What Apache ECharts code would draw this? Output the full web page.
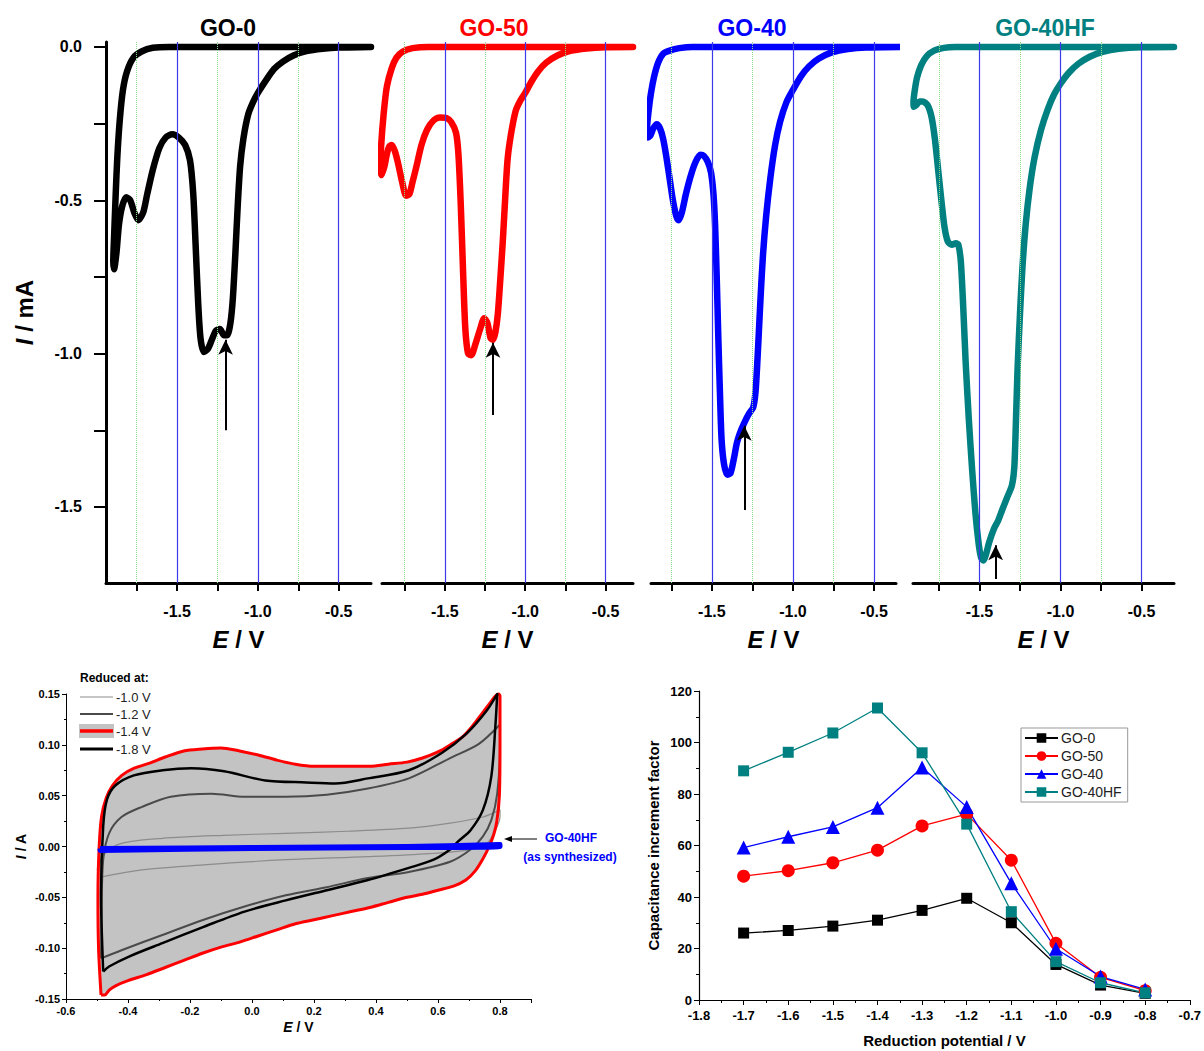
<!DOCTYPE html>
<html>
<head>
<meta charset="utf-8">
<title>GO reduction</title>
<script src="https://cdn.jsdelivr.net/npm/echarts@6.0.0/dist/echarts.min.js"></script>
<style>
  html, body { margin: 0; padding: 0; background: #fff; }
  #chart { width: 1204px; height: 1051px; }
</style>
</head>
<body>
<div id="chart"></div>
<script>
// ---- top row: reduction sweeps (E / V, I / mA) ----
const go0E = [-0.30,-1.0,-1.55,-1.65,-1.72,-1.77,-1.81,-1.835,-1.855,-1.87,-1.88,-1.89,-1.895,-1.89,
  -1.875,-1.86,-1.84,-1.815,-1.79,-1.765,-1.74,-1.71,-1.685,-1.65,-1.61,-1.57,-1.53,-1.49,-1.45,-1.42,-1.40,-1.385,-1.37,-1.355,-1.335,-1.31,-1.285,-1.26,-1.235,-1.21,-1.19,-1.17,-1.155,-1.14,-1.125,-1.11,-1.09,-1.06,-1.03,-1.0,-0.945,-0.90,-0.845,-0.78,-0.70,-0.60,-0.50,-0.30]
const go0I = [0,0,0,-0.003,-0.015,-0.035,-0.08,-0.14,-0.24,-0.36,-0.48,-0.62,-0.70,-0.725,
  -0.67,-0.58,-0.52,-0.49,-0.50,-0.54,-0.565,-0.54,-0.48,-0.40,-0.33,-0.295,-0.285,-0.295,-0.32,-0.37,-0.48,-0.65,-0.83,-0.95,-0.995,-0.985,-0.955,-0.925,-0.92,-0.94,-0.94,-0.90,-0.82,-0.68,-0.52,-0.39,-0.30,-0.22,-0.18,-0.15,-0.105,-0.072,-0.048,-0.028,-0.014,-0.006,-0.002,0]

const go50E = [-0.33,-1.0,-1.6,-1.70,-1.76,-1.80,-1.83,-1.86,-1.88,-1.895,-1.90,-1.893,
  -1.875,-1.86,-1.845,-1.83,-1.81,-1.79,-1.765,-1.74,-1.72,-1.70,-1.676,-1.645,-1.61,-1.57,-1.53,-1.49,-1.46,-1.43,-1.415,-1.40,-1.385,-1.372,-1.355,-1.335,-1.31,-1.28,-1.255,-1.235,-1.215,-1.20,-1.185,-1.17,-1.155,-1.14,-1.125,-1.11,-1.09,-1.06,-1.03,-1.0,-0.96,-0.92,-0.87,-0.80,-0.72,-0.62,-0.50,-0.33]
const go50I = [0,0,0,-0.004,-0.015,-0.035,-0.07,-0.13,-0.22,-0.32,-0.39,-0.418,
  -0.39,-0.35,-0.325,-0.32,-0.34,-0.38,-0.44,-0.485,-0.48,-0.44,-0.39,-0.32,-0.27,-0.24,-0.23,-0.232,-0.245,-0.28,-0.35,-0.52,-0.75,-0.92,-1.0,-1.005,-0.97,-0.92,-0.885,-0.90,-0.95,-0.955,-0.93,-0.87,-0.76,-0.64,-0.50,-0.37,-0.29,-0.21,-0.175,-0.15,-0.112,-0.08,-0.052,-0.028,-0.013,-0.005,-0.001,0]

const go40E = [-0.30,-1.0,-1.62,-1.70,-1.76,-1.80,-1.83,-1.855,-1.875,-1.89,-1.90,-1.895,
  -1.88,-1.86,-1.84,-1.82,-1.80,-1.78,-1.76,-1.74,-1.72,-1.705,-1.685,-1.66,-1.63,-1.60,-1.57,-1.55,-1.525,-1.505,-1.49,-1.48,-1.47,-1.46,-1.45,-1.44,-1.425,-1.405,-1.385,-1.365,-1.345,-1.32,-1.295,-1.27,-1.245,-1.23,-1.215,-1.20,-1.185,-1.165,-1.14,-1.11,-1.08,-1.04,-1.0,-0.95,-0.90,-0.84,-0.76,-0.66,-0.55,-0.30]
const go40I = [0,0,0,-0.004,-0.012,-0.022,-0.05,-0.095,-0.15,-0.21,-0.27,-0.295,
  -0.29,-0.265,-0.252,-0.265,-0.30,-0.36,-0.43,-0.50,-0.55,-0.565,-0.54,-0.48,-0.42,-0.375,-0.352,-0.355,-0.375,-0.41,-0.48,-0.58,-0.75,-0.95,-1.13,-1.28,-1.36,-1.395,-1.39,-1.345,-1.29,-1.25,-1.22,-1.195,-1.175,-1.12,-0.98,-0.82,-0.68,-0.55,-0.43,-0.32,-0.245,-0.18,-0.14,-0.095,-0.063,-0.038,-0.018,-0.007,-0.002,0]

const go40hfE = [-0.30,-1.0,-1.65,-1.72,-1.78,-1.825,-1.86,-1.885,-1.90,-1.907,-1.905,
  -1.89,-1.87,-1.85,-1.82,-1.795,-1.775,-1.755,-1.735,-1.715,-1.695,-1.67,-1.645,-1.63,-1.615,-1.60,-1.585,-1.565,-1.545,-1.525,-1.505,-1.49,-1.475,-1.46,-1.44,-1.41,-1.385,-1.36,-1.33,-1.30,-1.285,-1.275,-1.265,-1.25,-1.235,-1.215,-1.19,-1.16,-1.12,-1.08,-1.04,-1.0,-0.95,-0.89,-0.82,-0.74,-0.64,-0.50,-0.30]
const go40hfI = [0,0,0,-0.003,-0.012,-0.03,-0.06,-0.10,-0.145,-0.18,-0.195,
  -0.19,-0.178,-0.178,-0.19,-0.23,-0.30,-0.40,-0.50,-0.59,-0.635,-0.645,-0.64,-0.645,-0.70,-0.85,-1.03,-1.22,-1.38,-1.52,-1.62,-1.665,-1.675,-1.655,-1.615,-1.57,-1.545,-1.51,-1.47,-1.43,-1.37,-1.22,-1.05,-0.87,-0.72,-0.58,-0.46,-0.36,-0.27,-0.205,-0.155,-0.12,-0.085,-0.055,-0.032,-0.016,-0.006,-0.001,0]

const panelNames = ['GO-0', 'GO-50', 'GO-40', 'GO-40HF']
const arrowE = [-1.20, -1.20, -1.30, -1.40]
const arrowFrom = [-1.25, -1.20, -1.51, -1.735]
const arrowTo = [-0.955, -0.965, -1.235, -1.625]

const topXLabels = [-1.5, -1.0, -0.5]
const topXTicks = [-1.75, -1.5, -1.25, -1.0, -0.75, -0.5]
const topYLabels = [0, -0.5, -1.0, -1.5]
const topYTicks = [0, -0.25, -0.5, -0.75, -1.0, -1.25, -1.5]
const guideMajor = [-1.5, -1.0, -0.5]
const guideMinor = [-1.75, -1.25, -0.75]

// ---- bottom left: CV (E / V, I / A) ----
const cvLabels = ['-1.0 V', '-1.2 V', '-1.4 V', '-1.8 V']
const cv10E = [-0.50,-0.474,-0.421,-0.289,-0.09,0.109,0.308,0.506,0.639,0.745,0.80,0.80,0.785,0.758,0.705,0.573,0.374,0.109,-0.156,-0.355,-0.487]
const cv10I = [-0.023,-0.007,0.003,0.008,0.011,0.013,0.015,0.018,0.023,0.029,0.036,0.029,0.016,0.003,-0.003,-0.007,-0.010,-0.013,-0.018,-0.023,-0.030]
const cv12E = [-0.487,-0.485,-0.48,-0.461,-0.421,-0.355,-0.262,-0.13,-0.024,0.109,0.241,0.374,0.506,0.639,0.732,0.80,0.80,0.791,0.772,0.745,0.705,0.639,0.506,0.374,0.241,0.109,-0.024,-0.156,-0.289,-0.421,-0.487]
const cv12I = [-0.110,-0.060,-0.013,0.013,0.029,0.039,0.049,0.052,0.049,0.049,0.051,0.057,0.067,0.087,0.101,0.120,0.101,0.052,0.026,0.010,-0.003,-0.015,-0.025,-0.031,-0.040,-0.048,-0.059,-0.072,-0.087,-0.102,-0.110]
const cv14E = [-0.487,-0.495,-0.497,-0.493,-0.485,-0.47,-0.45,-0.42,-0.38,-0.33,-0.28,-0.22,-0.16,-0.10,-0.04,0.02,0.08,0.14,0.20,0.26,0.32,0.38,0.44,0.50,0.55,0.60,0.64,0.68,0.71,0.74,0.765,0.785,0.795,0.80,0.80,0.798,0.79,0.78,0.765,0.745,0.72,0.69,0.65,0.60,0.55,0.50,0.44,0.38,0.32,0.26,0.20,0.14,0.08,0.02,-0.04,-0.10,-0.16,-0.22,-0.28,-0.34,-0.40,-0.44,-0.46,-0.475,-0.487]
const cv14I = [-0.146,-0.10,-0.05,0.0,0.03,0.048,0.060,0.070,0.077,0.082,0.088,0.094,0.096,0.097,0.094,0.090,0.085,0.081,0.079,0.079,0.079,0.079,0.081,0.083,0.087,0.093,0.100,0.108,0.118,0.130,0.140,0.148,0.150,0.148,0.10,0.05,0.025,0.012,0.0,-0.012,-0.024,-0.033,-0.039,-0.043,-0.047,-0.050,-0.055,-0.060,-0.064,-0.068,-0.072,-0.076,-0.082,-0.088,-0.094,-0.099,-0.105,-0.112,-0.119,-0.126,-0.132,-0.137,-0.141,-0.146,-0.146]
const cv18E = [-0.48,-0.487,-0.48,-0.468,-0.441,-0.381,-0.289,-0.196,-0.09,0.043,0.175,0.268,0.374,0.506,0.612,0.692,0.758,0.791,0.785,0.772,0.745,0.705,0.665,0.639,0.586,0.506,0.374,0.241,0.109,-0.024,-0.156,-0.289,-0.395,-0.461,-0.48]
const cv18I = [-0.123,-0.046,0.020,0.046,0.060,0.070,0.075,0.077,0.074,0.065,0.063,0.062,0.067,0.075,0.092,0.111,0.134,0.150,0.118,0.069,0.036,0.016,0.005,-0.003,-0.013,-0.021,-0.033,-0.043,-0.053,-0.064,-0.079,-0.095,-0.108,-0.118,-0.123]
const hfE = [-0.49, 0.0, 0.5, 0.80, 0.80, 0.5, 0.0, -0.49, -0.49]
const hfI = [-0.002, -0.001, 0.0, 0.002, 0.0, -0.001, -0.002, -0.004, -0.002]

// ---- bottom right: capacitance increment factor ----
const potentials = [-1.7, -1.6, -1.5, -1.4, -1.3, -1.2, -1.1, -1.0, -0.9, -0.8]
const capGO0 = [26, 27, 28.7, 31, 34.8, 39.5, 30, 13.8, 5.8, 2.6]
const capGO50 = [48.1, 50.2, 53.3, 58.2, 67.6, 72.2, 54.3, 22, 8.8, 3.6]
const capGO40 = [59.2, 63.4, 67.2, 74.7, 90.3, 75, 45.3, 19.9, 9.1, 4.1]
const capGO40HF = [89, 96.2, 103.7, 113.4, 96, 68.3, 34.3, 14.9, 6.7, 2.8]

const FONT = '"Liberation Sans", Arial, Helvetica, sans-serif'
const zip = (a, b) => a.map((v, i) => [v, b[i]])
const topColors = ['#000000', '#ff0000', '#0000ff', '#008080']
const topLayout = [
  { left: 106, width: 265, min: -1.94, max: -0.30, title: 228 },
  { left: 382, width: 251, min: -1.89, max: -0.33, title: 494 },
  { left: 651, width: 245, min: -1.875, max: -0.365, title: 752 },
  { left: 913, width: 261, min: -1.91, max: -0.30, title: 1045 },
]
const topCurves = [[go0E, go0I], [go50E, go50I], [go40E, go40I], [go40hfE, go40hfI]]

const chart = echarts.init(document.getElementById('chart'), null, { renderer: 'svg' })

const grid = topLayout.map(p => ({ left: p.left, width: p.width, top: 42, height: 541 }))
grid.push({ left: 66, width: 465, top: 694, height: 305 })
grid.push({ left: 699, width: 491, top: 691, height: 309 })

const italicRich = size => ({ i: { fontStyle: 'italic', fontWeight: 'bold', fontSize: size, fontFamily: FONT, color: '#000' } })

const xAxis = topLayout.map((p, i) => ({
  type: 'value', gridIndex: i, min: p.min, max: p.max,
  name: '{i|E} / V', nameLocation: 'middle', nameGap: 44,
  nameTextStyle: { fontSize: 24, fontWeight: 'bold', fontFamily: FONT, color: '#000', rich: italicRich(24) },
  axisLine: { onZero: false, lineStyle: { color: '#000', width: 3 } },
  axisTick: { customValues: topXTicks, length: 8, lineStyle: { color: '#000', width: 2 } },
  axisLabel: { customValues: topXLabels, margin: 20, fontSize: 16, fontWeight: 'bold', fontFamily: FONT, color: '#000', formatter: v => v.toFixed(1) },
  splitLine: { show: false },
}))
xAxis.push({
  type: 'value', gridIndex: 4, min: -0.6, max: 0.9, interval: 0.2,
  name: '{i|E} / V', nameLocation: 'middle', nameGap: 21,
  nameTextStyle: { fontSize: 14, fontWeight: 'bold', fontFamily: FONT, color: '#000', rich: italicRich(14) },
  axisLine: { onZero: false, lineStyle: { color: '#000', width: 1 } },
  axisTick: { length: 4, lineStyle: { color: '#000' } },
  minorTick: { show: true, splitNumber: 2, length: 2, lineStyle: { color: '#000' } },
  axisLabel: { margin: 6, fontSize: 11, fontWeight: 'bold', fontFamily: FONT, color: '#000', showMaxLabel: false, formatter: v => v.toFixed(1) },
  splitLine: { show: false },
})
xAxis.push({
  type: 'value', gridIndex: 5, min: -1.8, max: -0.7, interval: 0.1,
  name: 'Reduction potential / V', nameLocation: 'middle', nameGap: 33,
  nameTextStyle: { fontSize: 15, fontWeight: 'bold', fontFamily: FONT, color: '#000' },
  axisLine: { onZero: false, lineStyle: { color: '#000', width: 1.2 } },
  axisTick: { length: 5, lineStyle: { color: '#000' } },
  minorTick: { show: true, splitNumber: 2, length: 3, lineStyle: { color: '#000' } },
  axisLabel: { margin: 9, fontSize: 13, fontWeight: 'bold', fontFamily: FONT, color: '#000', formatter: v => v.toFixed(1) },
  splitLine: { show: false },
})

const yAxis = topLayout.map((p, i) => ({
  type: 'value', gridIndex: i, min: -1.748, max: 0.016, show: i === 0,
  name: i === 0 ? '{i|I} / mA' : '', nameLocation: 'middle', nameGap: 70, nameRotate: 90,
  nameTextStyle: { fontSize: 24, fontWeight: 'bold', fontFamily: FONT, color: '#000', rich: italicRich(24) },
  axisLine: { onZero: false, lineStyle: { color: '#000', width: 3 } },
  axisTick: { customValues: topYTicks, length: 12, lineStyle: { color: '#000', width: 2 } },
  axisLabel: { customValues: topYLabels, margin: 24, fontSize: 16, fontWeight: 'bold', fontFamily: FONT, color: '#000', formatter: v => v.toFixed(1) },
  splitLine: { show: false },
}))
yAxis.push({
  type: 'value', gridIndex: 4, min: -0.15, max: 0.15, interval: 0.05,
  name: '{i|I} / A', nameLocation: 'middle', nameGap: 38, nameRotate: 90,
  nameTextStyle: { fontSize: 14, fontWeight: 'bold', fontFamily: FONT, color: '#000', rich: italicRich(14) },
  axisLine: { onZero: false, lineStyle: { color: '#000', width: 1 } },
  axisTick: { length: 4, lineStyle: { color: '#000' } },
  minorTick: { show: true, splitNumber: 2, length: 2, lineStyle: { color: '#000' } },
  axisLabel: { margin: 6, fontSize: 11, fontWeight: 'bold', fontFamily: FONT, color: '#000', formatter: v => v.toFixed(2) },
  splitLine: { show: false },
})
yAxis.push({
  type: 'value', gridIndex: 5, min: 0, max: 120, interval: 20,
  name: 'Capacitance increment factor', nameLocation: 'middle', nameGap: 38, nameRotate: 90,
  nameTextStyle: { fontSize: 15, fontWeight: 'bold', fontFamily: FONT, color: '#000' },
  axisLine: { onZero: false, lineStyle: { color: '#000', width: 1.2 } },
  axisTick: { length: 5, lineStyle: { color: '#000' } },
  minorTick: { show: true, splitNumber: 2, length: 3, lineStyle: { color: '#000' } },
  axisLabel: { margin: 7, fontSize: 13, fontWeight: 'bold', fontFamily: FONT, color: '#000' },
  splitLine: { show: false },
})

const series = []
topCurves.forEach(([E, I], i) => {
  // guide lines behind the curve
  series.push({
    type: 'line', xAxisIndex: i, yAxisIndex: i, data: [[-1.0, 0]], silent: true, z: 1,
    showSymbol: false, lineStyle: { opacity: 0 },
    markLine: {
      silent: true, symbol: 'none', animation: false, label: { show: false },
      data: guideMajor.map(v => ({ xAxis: v, lineStyle: { color: '#3a3ae8', width: 1.2, type: 'solid' } }))
        .concat(guideMinor.map(v => ({ xAxis: v, lineStyle: { color: '#8ad88a', width: 1, type: 'dotted' } }))),
    },
  })
  series.push({
    type: 'line', xAxisIndex: i, yAxisIndex: i, data: zip(E, I), z: 3,
    smooth: 0.25, showSymbol: false, clip: false, silent: true,
    lineStyle: { color: topColors[i], width: 6.5, cap: 'round', join: 'round' },
    markLine: {
      silent: true, symbol: ['none', 'arrow'], symbolSize: [11, 15], animation: false,
      label: { show: false },
      lineStyle: { color: '#000', width: 2, type: 'solid' },
      data: [[{ coord: [arrowE[i], arrowFrom[i]] }, { coord: [arrowE[i], arrowTo[i]] }]],
    },
  })
})

// CV panel
series.push({
  type: 'custom', xAxisIndex: 4, yAxisIndex: 4, data: [[0, 0]], z: 1, silent: true,
  renderItem: (params, api) => ({
    type: 'polygon',
    shape: { points: cv14E.map((e, k) => api.coord([e, cv14I[k]])) },
    style: { fill: '#c3c3c3', stroke: 'none' },
  }),
})
const cvLine = (E, I, color, width, z) => ({
  type: 'line', xAxisIndex: 4, yAxisIndex: 4, data: zip(E, I), z, silent: true,
  smooth: 0.3, showSymbol: false, clip: false,
  lineStyle: { color, width, join: 'round' },
})
series.push(cvLine(cv10E, cv10I, '#8c8c8c', 1.2, 2))
series.push(cvLine(cv12E, cv12I, '#4a4a4a', 2, 3))
series.push(cvLine(cv14E, cv14I, '#ff0000', 3, 4))
series.push(cvLine(cv18E, cv18I, '#000000', 2.5, 5))
series.push(cvLine(hfE, hfI, '#0000ff', 5, 6))

// capacitance panel
const capSeries = [
  ['GO-0', capGO0, '#000000', 'rect', 11],
  ['GO-50', capGO50, '#ff0000', 'circle', 13],
  ['GO-40', capGO40, '#0000ff', 'triangle', 14],
  ['GO-40HF', capGO40HF, '#008080', 'rect', 11],
]
capSeries.forEach(([name, vals, color, symbol, size]) => {
  series.push({
    name, type: 'line', xAxisIndex: 5, yAxisIndex: 5, data: zip(potentials, vals),
    symbol, symbolSize: size, showAllSymbol: true,
    lineStyle: { color, width: 1.3 }, itemStyle: { color },
  })
})

// legend of the CV panel and annotations
const cvLegendColors = ['#8c8c8c', '#4a4a4a', '#ff0000', '#000000']
const cvLegendWidths = [1.2, 2, 3.5, 3]
const cvLegendY = [697, 714, 731, 749]
const graphic = []
panelNames.forEach((n, i) => {
  graphic.push({
    type: 'text', x: topLayout[i].title, y: 28, silent: true,
    style: { text: n, fill: topColors[i], font: 'bold 23px ' + FONT, textAlign: 'center', textVerticalAlign: 'middle' },
  })
})
graphic.push({
  type: 'text', x: 80, y: 678, silent: true,
  style: { text: 'Reduced at:', fill: '#000', font: 'bold 12px ' + FONT, textVerticalAlign: 'middle' },
})
graphic.push({ type: 'rect', shape: { x: 79, y: 724, width: 35, height: 14 }, style: { fill: '#c3c3c3' }, silent: true })
cvLabels.forEach((lab, k) => {
  graphic.push({
    type: 'line', silent: true,
    shape: { x1: 80, y1: cvLegendY[k], x2: 113, y2: cvLegendY[k] },
    style: { stroke: cvLegendColors[k], lineWidth: cvLegendWidths[k] },
  })
  graphic.push({
    type: 'text', x: 116, y: cvLegendY[k], silent: true,
    style: { text: lab, fill: '#222', font: '13px ' + FONT, textVerticalAlign: 'middle' },
  })
})
graphic.push({ type: 'line', silent: true, shape: { x1: 537, y1: 839, x2: 510, y2: 839 }, style: { stroke: '#000', lineWidth: 1 } })
graphic.push({ type: 'polygon', silent: true, shape: { points: [[504, 839], [512, 836], [512, 842]] }, style: { fill: '#000' } })
graphic.push({
  type: 'text', x: 571, y: 838, silent: true,
  style: { text: 'GO-40HF', fill: '#0000ff', font: 'bold 12px ' + FONT, textAlign: 'center', textVerticalAlign: 'middle' },
})
graphic.push({
  type: 'text', x: 570, y: 857, silent: true,
  style: { text: '(as synthesized)', fill: '#0000ff', font: 'bold 12px ' + FONT, textAlign: 'center', textVerticalAlign: 'middle' },
})

chart.setOption({
  backgroundColor: '#fff',
  animation: false,
  grid,
  xAxis,
  yAxis,
  series,
  graphic,
  legend: {
    data: capSeries.map(s => s[0]),
    orient: 'vertical', left: 1021, top: 728,
    itemWidth: 33, itemHeight: 12, itemGap: 4,
    padding: [3, 6, 3, 3],
    borderColor: '#999', borderWidth: 1,
    selectedMode: false,
    textStyle: { fontSize: 14, lineHeight: 14, fontFamily: FONT, color: '#222', padding: [0, 0, 0, -2] },
  },
})

window.addEventListener('resize', () => chart.resize())
</script>
</body>
</html>
